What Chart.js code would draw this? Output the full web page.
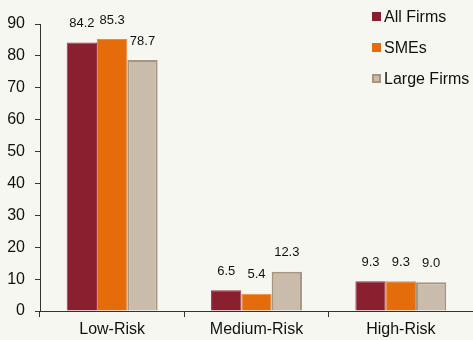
<!DOCTYPE html>
<html>
<head>
<meta charset="utf-8">
<script src="https://cdn.jsdelivr.net/npm/chart.js@4"></script>
<style>
  html, body { margin: 0; padding: 0; background: #f7f7f2; }
  #wrap { position: relative; width: 473px; height: 340px; }
  #legend { position: absolute; left: 372px; top: 1px; font-family: "Liberation Sans", Arial, sans-serif; font-size: 16px; color: #111; }
  #legend div { height: 31px; display: flex; align-items: center; }
  #legend span.box { display: inline-block; width: 9px; height: 9px; margin-right: 3px; box-sizing: border-box; }
</style>
</head>
<body>
<div id="wrap">
  <canvas id="c" width="473" height="340"></canvas>
  <div id="legend"></div>
</div>
<script>
const categories = ["Low-Risk", "Medium-Risk", "High-Risk"];
const allFirms = [84.2, 6.5, 9.3];
const smes = [85.3, 5.4, 9.3];
const largeFirms = [78.7, 12.3, 9.0];
const yTicks = [0, 10, 20, 30, 40, 50, 60, 70, 80, 90];

const series = [
  { label: "All Firms", data: allFirms, backgroundColor: "#8a1f30", borderColor: "#9a3545", borderWidth: 1 },
  { label: "SMEs", data: smes, backgroundColor: "#e46c0a", borderColor: "#ee8a3a", borderWidth: 1 },
  { label: "Large Firms", data: largeFirms, backgroundColor: "#c9bcad", borderColor: "#a8957f", borderWidth: 2 }
];

const FONT = "'Liberation Sans', Arial, sans-serif";

// draws each bar's value above it
const valueLabels = {
  id: "valueLabels",
  afterDatasetsDraw(chart) {
    const ctx = chart.ctx;
    ctx.save();
    ctx.font = "13px " + FONT;
    ctx.fillStyle = "#111";
    ctx.textAlign = "center";
    ctx.textBaseline = "middle";
    chart.data.datasets.forEach((ds, i) => {
      chart.getDatasetMeta(i).data.forEach((bar, j) => {
        ctx.fillText(ds.data[j].toFixed(1), bar.x, bar.y - 19);
      });
    });
    ctx.restore();
  }
};

const chart = new Chart(document.getElementById("c"), {
  type: "bar",
  data: {
    labels: categories,
    datasets: series.map(s => Object.assign({ categoryPercentage: 0.63, barPercentage: 1.0 }, s))
  },
  options: {
    responsive: false,
    animation: false,
    layout: { padding: { top: 24, right: 0, left: 7, bottom: 1 } },
    plugins: { legend: { display: false }, tooltip: { enabled: false } },
    scales: {
      x: {
        offset: true,
        afterFit(axis) { axis.height = 28; },
        grid: { display: true, offset: true, drawOnChartArea: false, drawTicks: true, tickLength: 6, color: "#333" },
        border: { color: "#333", width: 1 },
        ticks: { color: "#111", font: { family: FONT, size: 16 }, padding: 3 }
      },
      y: {
        min: 0,
        max: 90,
        afterFit(axis) { axis.width = 33; },
        afterBuildTicks(axis) { axis.ticks = yTicks.map(v => ({ value: v })); },
        grid: { display: true, drawOnChartArea: false, drawTicks: true, tickLength: 5, color: "#333" },
        border: { color: "#333", width: 1 },
        ticks: { color: "#111", font: { family: FONT, size: 16 }, padding: 10 }
      }
    }
  },
  plugins: [valueLabels]
});

// legend
const legend = document.getElementById("legend");
series.forEach(s => {
  const row = document.createElement("div");
  const box = document.createElement("span");
  box.className = "box";
  box.style.background = s.backgroundColor;
  if (s.borderWidth > 1) box.style.border = "2px solid " + s.borderColor;
  row.appendChild(box);
  row.appendChild(document.createTextNode(s.label));
  legend.appendChild(row);
});
</script>
</body>
</html>
